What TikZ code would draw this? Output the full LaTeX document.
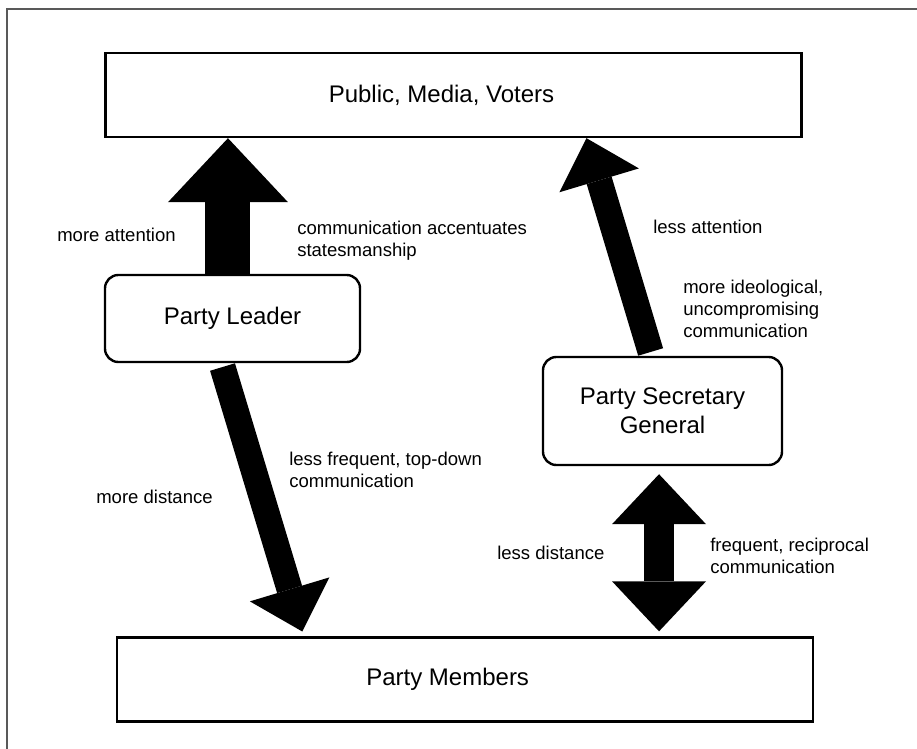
\documentclass[tikz,border=0pt]{standalone}
\usepackage{fontspec}
\setmainfont{Liberation Sans}
\usetikzlibrary{arrows.meta}

\tikzset{
  plainbox/.style={draw,line width=1.8pt,minimum width=522pt,minimum height=63pt,font=\fontsize{18}{21.75}\selectfont},
  rolebox/.style={draw,line width=1.8pt,rounded corners=10pt,align=center,font=\fontsize{18}{21.75}\selectfont},
  note/.style={inner sep=0pt,align=left,font=\fontsize{13.9}{16.5}\selectfont},
  slimarrow/.style={line width=19.5pt,-{Triangle[length=33pt,width=62.25pt,line width=0pt]}},
}

\begin{document}
\begin{tikzpicture}[x=0.75pt,y=-0.75pt]
    \useasboundingbox (0,0) rectangle (917,749);
    \draw[black!65,line width=1.5pt] (7,749) -- (7,9) -- (917,9);
    \node[plainbox] (PMV) at (453.5,95) {Public, Media, Voters\hspace*{18pt}};
    \node[rolebox,minimum width=191.25pt,minimum height=65.25pt] (PL) at (232.5,318.5) {Party Leader};
    \node[rolebox,minimum width=179.25pt,minimum height=81pt] (PSG) at (662.5,411) {Party Secretary\\General};
    \node[plainbox] (PM) at (465,679.5) {Party Members\hspace*{26pt}};
    \draw[line width=33.75pt,-{Triangle[length=48pt,width=90pt,line width=0pt]}] ([xshift=-3.4pt]PL.north) -- ([xshift=-3.4pt]PL.north |- PMV.south);
    \draw[slimarrow,shorten <=3pt] (PSG.101.2) -- (PMV.342.5);
    \draw[slimarrow,shorten <=3pt,shorten >=3.75pt] (PL.256) -- (PM.165.7);
    \draw[line width=23pt,{Triangle[length=37.5pt,width=70.5pt,line width=0pt]}-{Triangle[length=37.5pt,width=70.5pt,line width=0pt]},shorten <=6pt,shorten >=3.75pt] ([xshift=-2.6pt]PSG.south) -- ([xshift=-2.6pt]PSG.south |- PM.north);
    \node[note,anchor=east] (mA) at (176,235) {more attention};
    \node[note,anchor=west] (cS) at (297,241) {communication accentuates\\statesmanship};
    \node[note,anchor=west] (lA) at (653,227) {less attention};
    \node[note,anchor=west] (mI) at (683,309) {more ideological,\\uncompromising\\communication};
    \node[note,anchor=west] (lF) at (289,470) {less frequent, top-down\\communication};
    \node[note,anchor=west] (mD) at (96,497) {more distance};
    \node[note,anchor=west] (lD) at (497,553) {less distance};
    \node[note,anchor=west] (fR) at (710,556) {frequent, reciprocal\\communication};
\end{tikzpicture}
\end{document}
